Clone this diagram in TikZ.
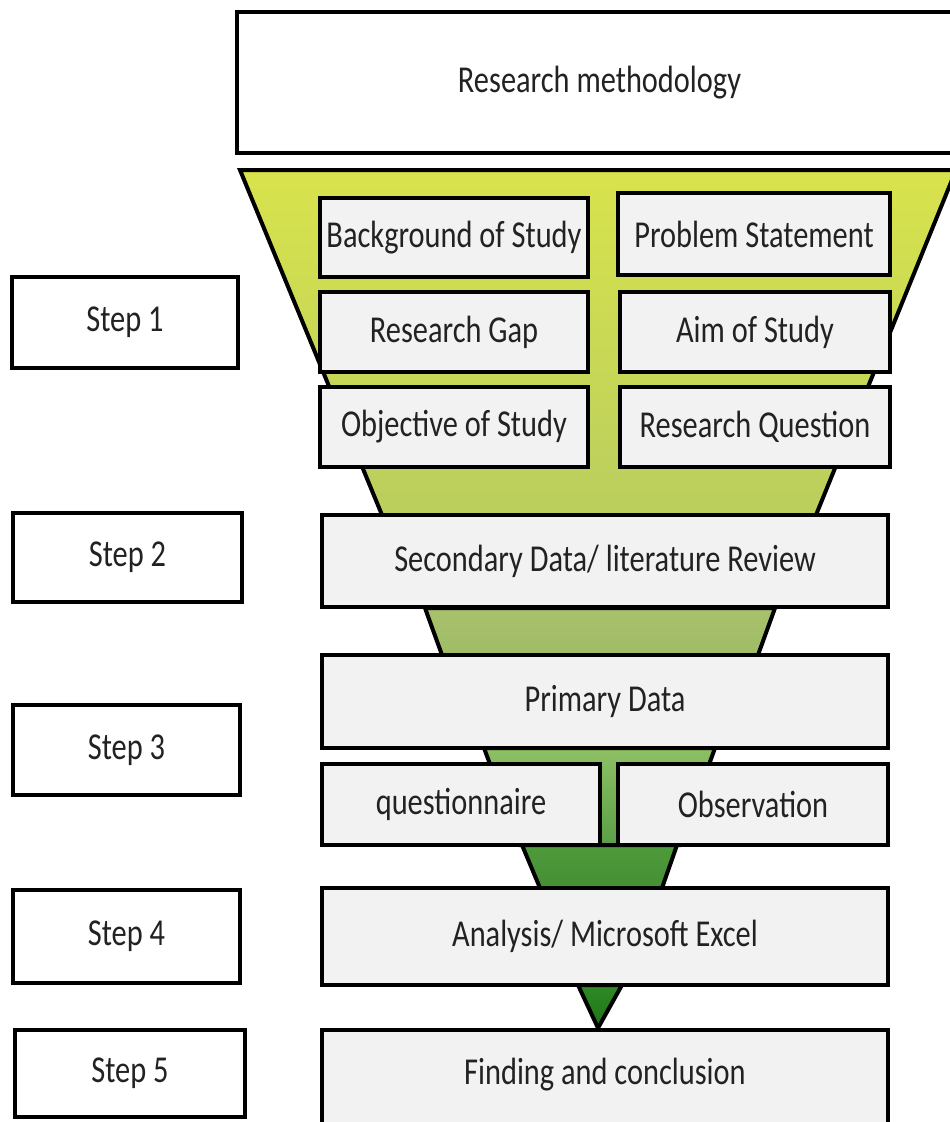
\documentclass[tikz,border=0pt]{standalone}
\usepackage{fontspec}
\setmainfont[FakeStretch=0.8]{Carlito}
\usepackage{xcolor}
\usepackage{tikz}
\usetikzlibrary{calc}
\definecolor{ink}{HTML}{222222}
\definecolor{boxfill}{HTML}{F2F2F2}
\definecolor{funA}{HTML}{D8E34C}
\definecolor{funB}{HTML}{BACE5E}
\definecolor{funC}{HTML}{A8C16C}
\definecolor{funD}{HTML}{A0BC66}
\definecolor{funE}{HTML}{8EC065}
\definecolor{funF}{HTML}{5A9F46}
\definecolor{funG}{HTML}{4E9B3B}
\definecolor{funH}{HTML}{468F34}
\definecolor{funI}{HTML}{2F8A25}
\definecolor{funJ}{HTML}{1E7419}
\tikzset{
  TopBox/.style={
    draw=black, line width=4pt,
    fill=white, text=ink,
    inner sep=2pt
  },
  StepBox/.style={TopBox},
  InnerBox/.style={TopBox, fill=boxfill},
  FunnelLine/.style={draw=black, line width=4pt, line join=miter}
}
\newcommand{\LabelBox}[7][]{%
  % #1 = style, #2 = node name
  % #3,#4 = top left corner, #5,#6 = bottom right corner, #7 = text
  \pgfmathsetmacro{\bw}{#5-#3}%
  \pgfmathsetmacro{\bh}{#6-#4}%
  \node[#1, minimum width=\bw pt, minimum height=\bh pt] (#2) at ({(#3+#5)/2},{(#4+#6)/2}) {#7};
}
\newcommand{\FunnelPart}[3]{%
  % #1 = colour at the top, #2 = colour at the bottom, #3 = outline
  \draw[FunnelLine, top color=#1, bottom color=#2] #3 -- cycle;
}

\begin{document}
\begin{tikzpicture}[x=1pt, y=-1pt, font=\fontsize{38}{42}\selectfont]
  \useasboundingbox (0,0) rectangle (950,1122);
  \clip (0,0) rectangle (950,1122);

  % funnel pieces first, the boxes sit on top of them
  \FunnelPart{funA}{funB}{(240,170) -- (956,170) -- (816,515) -- (382,515)}
  \FunnelPart{funC}{funD}{(425,608) -- (775,608) -- (758,655) -- (442,655)}
  \FunnelPart{funE}{funF}{(484,748) -- (715,748) -- (680,845) -- (520,845)}
  \FunnelPart{funG}{funH}{(522,845) -- (677,845) -- (662,888) -- (540,888)}
  \FunnelPart{funI}{funJ}{(578,985) -- (622,985) -- (598,1028)}

  % heading
  \LabelBox[TopBox]{rm}{237}{12}{962}{153}{Research methodology}

  % steps on the left
  \LabelBox[StepBox]{s1}{12}{277}{238}{368}{Step 1}
  \LabelBox[StepBox]{s2}{13}{513}{242}{602}{Step 2}
  \LabelBox[StepBox]{s3}{13}{705}{240}{795}{Step 3}
  \LabelBox[StepBox]{s4}{13}{890}{240}{983}{Step 4}
  \LabelBox[StepBox]{s5}{15}{1030}{245}{1117}{Step 5}

  % step 1
  \LabelBox[InnerBox]{bg}{320}{198}{588}{277}{Background of Study}
  \LabelBox[InnerBox]{ps}{618}{193}{890}{275}{Problem Statement}
  \LabelBox[InnerBox]{gap}{320}{292}{588}{372}{Research Gap}
  \LabelBox[InnerBox]{aim}{620}{292}{890}{372}{Aim of Study}
  \LabelBox[InnerBox]{obj}{320}{387}{588}{467}{Objective of Study}
  \LabelBox[InnerBox]{rq}{620}{387}{890}{467}{Research Question}

  % steps 2 to 5
  \LabelBox[InnerBox]{sec}{322}{515}{888}{607}{Secondary Data/ literature Review}
  \LabelBox[InnerBox]{prim}{322}{655}{888}{748}{Primary Data}
  \LabelBox[InnerBox]{quest}{322}{764}{600}{845}{questionnaire}
  \LabelBox[InnerBox]{obs}{618}{764}{888}{845}{Observation}
  \LabelBox[InnerBox]{ana}{322}{888}{888}{985}{Analysis/ Microsoft Excel}
  \LabelBox[InnerBox]{find}{322}{1030}{888}{1140}{}
  \node[text=ink] (findtxt) at (605,1075) {Finding and conclusion};
\end{tikzpicture}
\end{document}
